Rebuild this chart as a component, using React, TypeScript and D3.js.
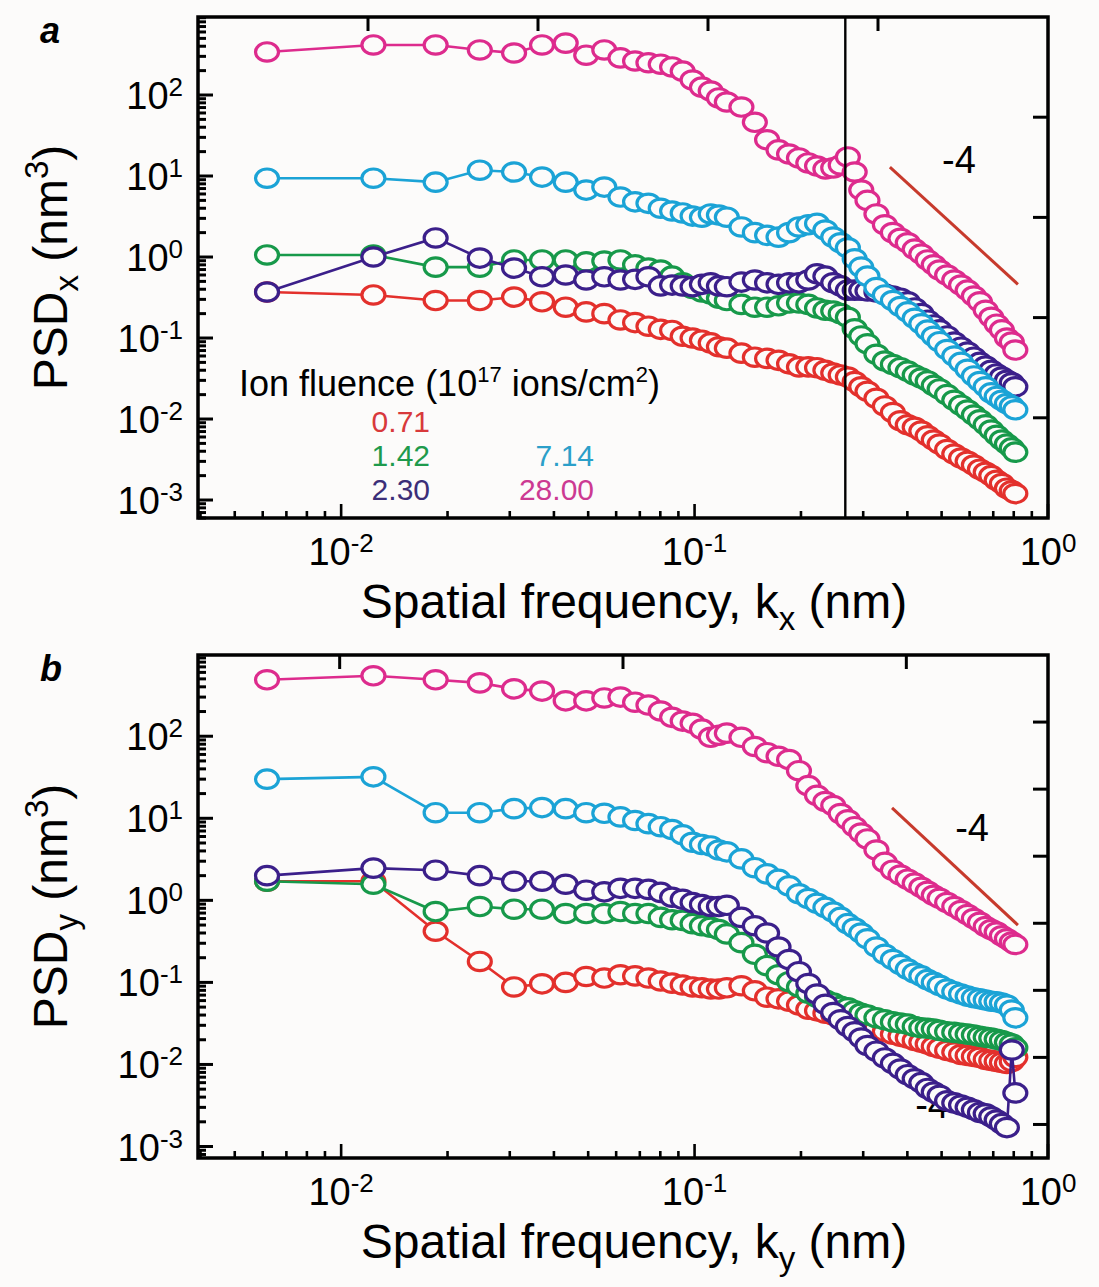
import React, { useRef, useEffect } from 'react';
import * as d3 from 'd3';

// spatial frequency grid (nm^-1), shared by both panels
const freq = [
  0.00617, 0.01234, 0.01851, 0.02468, 0.03085, 0.03702, 0.04319, 0.04936, 0.05553, 0.0617,
  0.06787, 0.07404, 0.08021, 0.08638, 0.09255, 0.09872, 0.1049, 0.1111, 0.1172, 0.1234,
  0.1357, 0.1481, 0.1604, 0.1728, 0.1851, 0.1974, 0.2098, 0.2221, 0.2345, 0.2468,
  0.2591, 0.2715, 0.2838, 0.2962, 0.3085,
  0.327, 0.3455, 0.364, 0.3825, 0.4011, 0.4196, 0.4381, 0.4566, 0.4751, 0.4936,
  0.5183, 0.543, 0.5676, 0.5923, 0.617, 0.6417, 0.6664, 0.691, 0.7157, 0.7404, 0.7651, 0.7898, 0.8083,
];

// panel a: PSD along x (nm^3)
const psdxRed = [
  0.37, 0.34, 0.29, 0.29, 0.32, 0.28, 0.24, 0.21, 0.2, 0.167, 0.155, 0.14, 0.128, 0.124, 0.105, 0.1, 0.094, 0.087, 0.078, 0.075,
  0.065, 0.058, 0.056, 0.053, 0.048, 0.044, 0.044, 0.043, 0.04, 0.037, 0.035, 0.033, 0.029, 0.025, 0.022,
  0.018, 0.0145, 0.012, 0.0095, 0.0085, 0.0079, 0.0071, 0.0062, 0.0055, 0.0049,
  0.0042, 0.0037, 0.0033, 0.003, 0.0027, 0.0024, 0.0022, 0.002, 0.00175, 0.0016, 0.0014, 0.0013, 0.0012,
];
const psdxGreen = [
  1.06, 1.06, 0.75, 0.75, 0.92, 0.92, 0.92, 0.87, 0.89, 0.92, 0.8, 0.73, 0.69, 0.58, 0.48, 0.41, 0.37, 0.35, 0.31, 0.29,
  0.26, 0.24, 0.24, 0.25, 0.27, 0.27, 0.26, 0.235, 0.22, 0.215, 0.2, 0.18, 0.13, 0.106, 0.085,
  0.063, 0.052, 0.047, 0.043, 0.039, 0.035, 0.032, 0.0295, 0.026, 0.0235,
  0.02, 0.017, 0.0148, 0.0129, 0.0112, 0.0098, 0.0085, 0.0073, 0.0063, 0.0055, 0.0049, 0.0044, 0.0039,
];
const psdxPurple = [
  0.37, 1.0, 1.72, 0.97, 0.73, 0.57, 0.6, 0.52, 0.57, 0.52, 0.53, 0.57, 0.44, 0.45, 0.44, 0.43, 0.46, 0.48, 0.44, 0.43,
  0.49, 0.52, 0.48, 0.46, 0.48, 0.48, 0.52, 0.62, 0.58, 0.48, 0.44, 0.39, 0.39, 0.39, 0.38,
  0.37, 0.35, 0.33, 0.31, 0.28, 0.235, 0.2, 0.166, 0.145, 0.126,
  0.106, 0.089, 0.077, 0.067, 0.058, 0.05, 0.045, 0.04, 0.036, 0.033, 0.03, 0.028, 0.025,
];
const psdxCyan = [
  9.4, 9.4, 8.4, 11.8, 11.2, 9.7, 8.4, 6.7, 7.3, 5.5, 4.8, 4.6, 4.0, 3.7, 3.5, 3.2, 3.1, 3.4, 3.3, 3.1,
  2.35, 2.0, 1.85, 1.76, 2.0, 2.35, 2.5, 2.6, 2.15, 1.76, 1.5, 1.3, 0.95, 0.75, 0.58,
  0.42, 0.34, 0.29, 0.245, 0.21, 0.175, 0.15, 0.125, 0.105, 0.09,
  0.072, 0.06, 0.05, 0.041, 0.034, 0.029, 0.025, 0.021, 0.019, 0.017, 0.0155, 0.0145, 0.013,
];
const psdxMagenta = [
  340, 415, 415, 360, 330, 415, 437, 310, 360, 287, 263, 250, 240, 222, 197, 153, 125, 112, 92, 82,
  71, 46, 28, 21, 18.7, 16.7, 14.5, 13.3, 12.2, 12.6, 13.7, 17.2, 11.2, 6.7, 5.0,
  3.4, 2.5, 2.0, 1.7, 1.5, 1.25, 1.09, 0.92, 0.8, 0.69,
  0.6, 0.52, 0.45, 0.39, 0.33, 0.28, 0.22, 0.18, 0.148, 0.126, 0.1, 0.089, 0.071,
];

// panel b: PSD along y (nm^3)
const psdyRed = [
  1.71, 1.71, 0.42, 0.18, 0.088, 0.096, 0.1, 0.118, 0.113, 0.124, 0.12, 0.113, 0.104, 0.098, 0.093, 0.088, 0.086, 0.083, 0.083, 0.086,
  0.091, 0.079, 0.066, 0.063, 0.059, 0.053, 0.047, 0.045, 0.042, 0.04, 0.038, 0.0355, 0.034, 0.032, 0.03,
  0.0276, 0.0253, 0.0233, 0.022, 0.021, 0.0196, 0.0186, 0.0177, 0.0166, 0.0158,
  0.0148, 0.0141, 0.0132, 0.0129, 0.0125, 0.0122, 0.0115, 0.0112, 0.0109, 0.0106, 0.0103, 0.0109, 0.0122,
];
const psdyGreen = [
  1.71, 1.57, 0.73, 0.84, 0.78, 0.78, 0.69, 0.69, 0.69, 0.73, 0.69, 0.69, 0.62, 0.58, 0.57, 0.52, 0.49, 0.47, 0.44, 0.39,
  0.305, 0.22, 0.16, 0.124, 0.102, 0.088, 0.074, 0.066, 0.061, 0.056, 0.051, 0.049, 0.045, 0.042, 0.04,
  0.037, 0.035, 0.033, 0.032, 0.031, 0.029, 0.028, 0.0276, 0.027, 0.026,
  0.025, 0.0246, 0.024, 0.0234, 0.0228, 0.022, 0.0214, 0.021, 0.0203, 0.0196, 0.0186, 0.0177, 0.016,
];
const psdyPurple = [
  2.0, 2.47, 2.33, 2.0, 1.71, 1.71, 1.57, 1.33, 1.27, 1.4, 1.4, 1.36, 1.25, 1.09, 1.03, 0.94, 0.89, 0.84, 0.84, 0.87,
  0.62, 0.49, 0.4, 0.27, 0.19, 0.135, 0.097, 0.072, 0.054, 0.043, 0.035, 0.029, 0.025, 0.021, 0.017,
  0.0145, 0.012, 0.0103, 0.0088, 0.0075, 0.0067, 0.006, 0.0051, 0.0046, 0.0042,
  0.0036, 0.0034, 0.0032, 0.003, 0.0028, 0.0026, 0.0025, 0.0023, 0.0021, 0.0019, 0.0017, 0.015, 0.0045,
];
const psdyCyan = [
  30, 32, 11.7, 11.7, 13.1, 13.5, 13.1, 11.7, 11.5, 10.4, 9.4, 8.6, 7.9, 7.3, 6.3, 5.1, 4.8, 4.6, 4.1, 3.9,
  3.2, 2.5, 2.1, 1.8, 1.5, 1.2, 1.05, 0.92, 0.82, 0.72, 0.62, 0.52, 0.46, 0.4, 0.34,
  0.27, 0.22, 0.19, 0.165, 0.145, 0.13, 0.12, 0.108, 0.1, 0.092,
  0.083, 0.077, 0.072, 0.068, 0.065, 0.063, 0.061, 0.059, 0.058, 0.056, 0.053, 0.046, 0.037,
];
const psdyMagenta = [
  487, 545, 487, 447, 378, 355, 270, 270, 293, 300, 260, 240, 203, 170, 153, 144, 122, 97, 103, 109,
  97, 75, 63, 57, 52, 38, 25, 19, 16, 14.3, 11.4, 9.6, 7.9, 6.6, 5.6,
  4.1, 2.9, 2.33, 2.03, 1.81, 1.62, 1.44, 1.29, 1.15, 1.06,
  0.94, 0.84, 0.75, 0.67, 0.6, 0.54, 0.48, 0.44, 0.41, 0.37, 0.34, 0.31, 0.29,
];

const fluenceLabels = ['0.71', '1.42', '2.30', '7.14', '28.00'];
const seriesColors = ['#e3302c', '#17994a', '#3b1f8a', '#1ba3d6', '#dd2b8d'];
const legendColors = ['#d8393b', '#1e9a4c', '#3b2e78', '#2b9fc9', '#cc3a92'];

// -4 slope guides: endpoints in data units
const slopeAx = [0.357, 0.822];
const slopeAy = [12.9, 0.46];
const slopeBx = [0.362, 0.822];
const slopeBy = [13.4, 0.5];
const cutoffK = 0.267;

const BG = '#fcfbfa';
const FONT = '"Liberation Sans", Arial, Helvetica, sans-serif';

function App() {
  const svgRef = useRef(null);

  useEffect(() => {
    const svg = d3.select(svgRef.current);
    svg.selectAll('*').remove();

    svg.append('rect').attr('width', 1099).attr('height', 1287).attr('fill', BG);

    const left = 198;
    const right = 1048;

    const panels = [
      {
        letter: 'a', sub: 'x', top: 17, bottom: 518, yLog: [-3.222, 2.963],
        data: [psdxRed, psdxGreen, psdxPurple, psdxCyan, psdxMagenta],
        topDomain: 5, topTicks: [1, 2, 3, 4], rightDomain: 5, rightTicks: [1, 2, 3, 4], rightFromBottom: true,
        slopeX: slopeAx, slopeY: slopeAy, slopeLabel: [0.56, 15.8], hiddenLabel: null,
        cutoff: cutoffK, legend: true,
      },
      {
        letter: 'b', sub: 'y', top: 655, bottom: 1158, yLog: [-3.14, 2.99],
        data: [psdyRed, psdyGreen, psdyPurple, psdyCyan, psdyMagenta],
        topDomain: 3, topTicks: [0.5, 1.5, 2.5], rightDomain: 7.5, rightTicks: [1, 2, 3, 4, 5, 6, 7], rightFromBottom: false,
        slopeX: slopeBx, slopeY: slopeBy, slopeLabel: [0.61, 7.6], hiddenLabel: [0.47, 0.0032],
        cutoff: null, legend: false,
      },
    ];

    panels.forEach(p => {
      const g = svg.append('g').attr('font-family', FONT);

      const x = d3.scaleLog().domain([Math.pow(10, -2.405), 1]).range([left, right]);
      const y = d3.scaleLog().domain([Math.pow(10, p.yLog[0]), Math.pow(10, p.yLog[1])]).range([p.bottom, p.top]);
      const xTop = d3.scaleLinear().domain([0, p.topDomain]).range([left, right]);
      const yRight = p.rightFromBottom
        ? d3.scaleLinear().domain([0, p.rightDomain]).range([p.bottom, p.top])
        : d3.scaleLinear().domain([0, p.rightDomain]).range([p.top, p.bottom]);

      const isMajor = (v: number) => Math.abs(Math.log10(v) - Math.round(Math.log10(v))) < 1e-6;

      // hidden "-4" label underneath the data (panel b)
      if (p.hiddenLabel) {
        g.append('text')
          .attr('x', x(p.hiddenLabel[0]))
          .attr('y', y(p.hiddenLabel[1]) + 13)
          .attr('text-anchor', 'middle')
          .attr('font-size', 38)
          .text('-4');
      }

      // series: line then open markers
      p.data.forEach((vals, si) => {
        const pts = freq.map((k, i) => [k, vals[i]] as [number, number]);
        const line = d3.line<[number, number]>().x(d => x(d[0])).y(d => y(d[1]));
        g.append('path')
          .attr('d', line(pts))
          .attr('fill', 'none')
          .attr('stroke', seriesColors[si])
          .attr('stroke-width', 2.6);
        g.selectAll(null)
          .data(pts)
          .enter()
          .append('ellipse')
          .attr('cx', d => x(d[0]))
          .attr('cy', d => y(d[1]))
          .attr('rx', 11.5)
          .attr('ry', 9.2)
          .attr('fill', BG)
          .attr('stroke', seriesColors[si])
          .attr('stroke-width', 3.2);
      });

      // cutoff line
      if (p.cutoff) {
        g.append('line')
          .attr('x1', x(p.cutoff)).attr('x2', x(p.cutoff))
          .attr('y1', p.top).attr('y2', p.bottom)
          .attr('stroke', '#000')
          .attr('stroke-width', 2.4);
      }

      // slope guide
      g.append('line')
        .attr('x1', x(p.slopeX[0])).attr('y1', y(p.slopeY[0]))
        .attr('x2', x(p.slopeX[1])).attr('y2', y(p.slopeY[1]))
        .attr('stroke', '#c73a2c')
        .attr('stroke-width', 3);
      g.append('text')
        .attr('x', x(p.slopeLabel[0]))
        .attr('y', y(p.slopeLabel[1]) + 13)
        .attr('text-anchor', 'middle')
        .attr('font-size', 38)
        .text('-4');

      // frame
      g.append('rect')
        .attr('x', left).attr('y', p.top)
        .attr('width', right - left).attr('height', p.bottom - p.top)
        .attr('fill', 'none')
        .attr('stroke', '#000')
        .attr('stroke-width', 3.5);

      // left log ticks (inward)
      y.ticks().forEach(v => {
        const len = isMajor(v) ? 15 : 8;
        g.append('line')
          .attr('x1', left).attr('x2', left + len)
          .attr('y1', y(v)).attr('y2', y(v))
          .attr('stroke', '#000').attr('stroke-width', 3);
      });
      // bottom log ticks (inward)
      x.ticks().forEach(v => {
        const len = isMajor(v) ? 14 : 7;
        g.append('line')
          .attr('x1', x(v)).attr('x2', x(v))
          .attr('y1', p.bottom).attr('y2', p.bottom - len)
          .attr('stroke', '#000').attr('stroke-width', 2.6);
      });
      // top and right plain ticks
      p.topTicks.forEach(v => {
        g.append('line')
          .attr('x1', xTop(v)).attr('x2', xTop(v))
          .attr('y1', p.top).attr('y2', p.top + 14)
          .attr('stroke', '#000').attr('stroke-width', 3);
      });
      p.rightTicks.forEach(v => {
        g.append('line')
          .attr('x1', right).attr('x2', right - 15)
          .attr('y1', yRight(v)).attr('y2', yRight(v))
          .attr('stroke', '#000').attr('stroke-width', 3);
      });

      // y tick labels 10^n
      y.ticks().filter(isMajor).forEach(v => {
        const t = g.append('text')
          .attr('x', 183)
          .attr('y', y(v) + 14)
          .attr('text-anchor', 'end')
          .attr('font-size', 38);
        t.append('tspan').text('10');
        t.append('tspan').attr('dy', -13).attr('font-size', 26).text(String(Math.round(Math.log10(v))));
      });
      // x tick labels 10^n
      x.ticks().filter(isMajor).forEach(v => {
        const t = g.append('text')
          .attr('x', x(v))
          .attr('y', p.bottom + 47)
          .attr('text-anchor', 'middle')
          .attr('font-size', 38);
        t.append('tspan').text('10');
        t.append('tspan').attr('dy', -13).attr('font-size', 26).text(String(Math.round(Math.log10(v))));
      });

      // axis titles
      const yt = g.append('text')
        .attr('transform', `translate(67,${(p.top + p.bottom) / 2}) rotate(-90)`)
        .attr('text-anchor', 'middle')
        .attr('font-size', 48);
      yt.append('tspan').text('PSD');
      yt.append('tspan').attr('dy', 11).attr('font-size', 33).text(p.sub);
      yt.append('tspan').attr('dy', -11).text(' (nm');
      yt.append('tspan').attr('dy', -19).attr('font-size', 33).text('3');
      yt.append('tspan').attr('dy', 19).text(')');

      const xt = g.append('text')
        .attr('x', 634)
        .attr('y', p.bottom + 100)
        .attr('text-anchor', 'middle')
        .attr('font-size', 48);
      xt.append('tspan').text('Spatial frequency, k');
      xt.append('tspan').attr('dy', 12).attr('font-size', 33).text(p.sub);
      xt.append('tspan').attr('dy', -12).text(' (nm)');

      // panel letter
      g.append('text')
        .attr('x', 40)
        .attr('y', p.top + 26)
        .attr('font-size', 36)
        .attr('font-weight', 'bold')
        .attr('font-style', 'italic')
        .text(p.letter);

      // legend
      if (p.legend) {
        const lt = g.append('text').attr('x', 239).attr('y', 396).attr('font-size', 36);
        lt.append('tspan').text('Ion fluence (10');
        lt.append('tspan').attr('dy', -14).attr('font-size', 22).text('17');
        lt.append('tspan').attr('dy', 14).text(' ions/cm');
        lt.append('tspan').attr('dy', -14).attr('font-size', 22).text('2');
        lt.append('tspan').attr('dy', 14).text(')');

        const cols = [430, 430, 430, 594, 594];
        const rows = [432, 466, 500, 466, 500];
        fluenceLabels.forEach((lab, i) => {
          g.append('text')
            .attr('x', cols[i])
            .attr('y', rows[i])
            .attr('text-anchor', 'end')
            .attr('font-size', 30)
            .attr('fill', legendColors[i])
            .text(lab);
        });
      }
    });
  }, []);

  return (
    <svg
      ref={svgRef}
      width={1099}
      height={1287}
      style={{ position: 'absolute', left: 0, top: 0, display: 'block' }}
    />
  );
}

export default App;
